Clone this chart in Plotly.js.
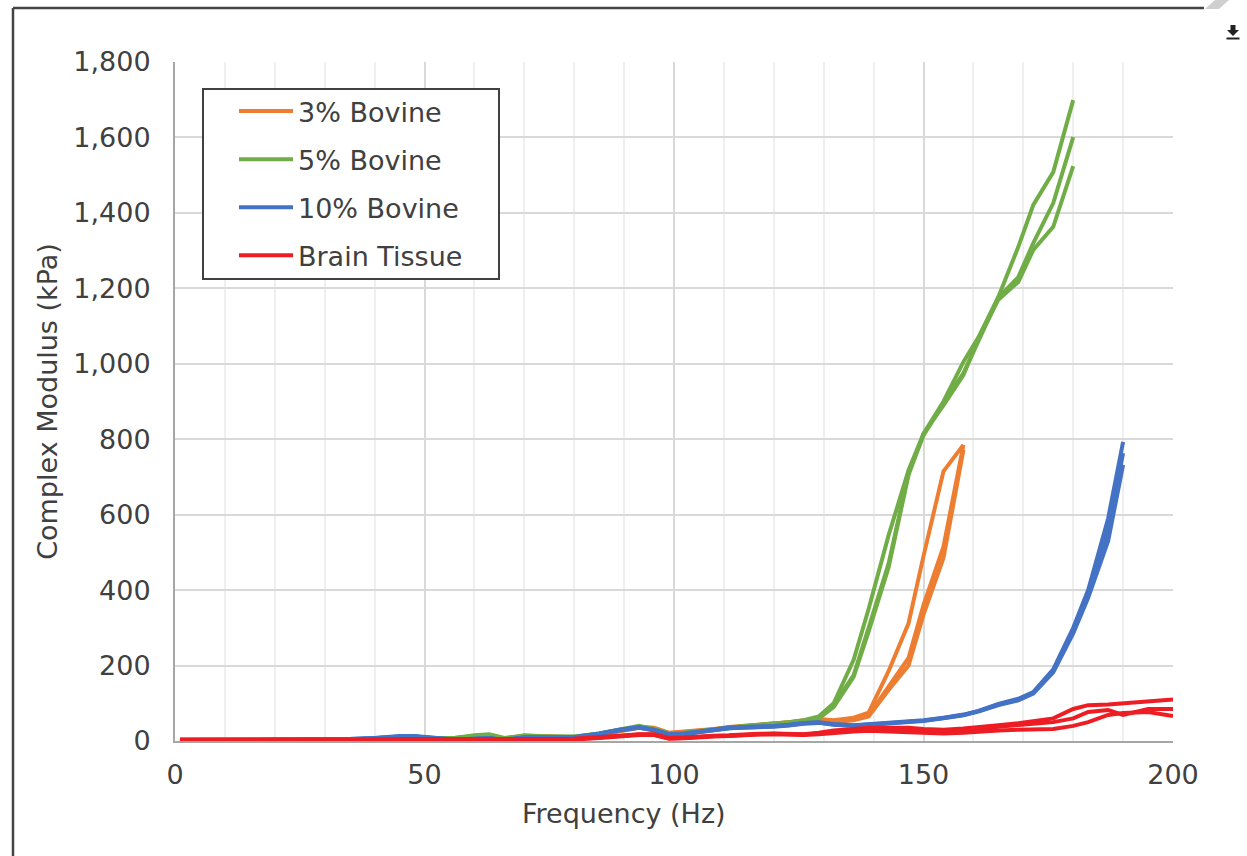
<!DOCTYPE html>
<html>
<head>
<meta charset="utf-8">
<script src="https://cdn.plot.ly/plotly-3.0.1.min.js"></script>
<style>
html,body{margin:0;padding:0;background:#fff;}
#chart{width:1247px;height:856px;}
</style>
</head>
<body>
<div id="chart"></div>
<script>
// Frequency grid (Hz)
const frequencies = [1, 5, 10, 15, 20, 25, 30, 35, 40, 45, 48, 52, 56, 60, 63, 66, 70, 75, 80, 85, 89, 93, 96, 99, 102, 105, 108, 111, 114, 117, 120, 123, 126, 129, 132, 136, 139, 143, 147, 150, 154, 158, 161, 165, 169, 172, 176, 180, 183, 187, 190, 195, 200];

const seriesNames = ["3% Bovine", "5% Bovine", "10% Bovine", "Brain Tissue"];
const seriesColors = ["#ED7D31", "#70AD47", "#4472C4", "#EE1D23"];

// 3% Bovine (to 158 Hz)
const bovine3_t1 = [3, 3, 3, 3, 3, 2, 2, 3, 5, 8, 8, 6, 5, 8, 5, 6, 15, 12, 10, 18, 28, 38, 35, 22, 25, 28, 32, 37, 40, 43, 47, 50, 55, 58, 55, 62, 75, 185, 312, 490, 715, 785];
const bovine3_t2 = [3, 3, 3, 3, 2, 2, 2, 3, 5, 7, 8, 6, 5, 7, 2, 6, 14, 12, 10, 17, 27, 36, 33, 21, 24, 27, 31, 36, 39, 42, 46, 49, 53, 56, 52, 58, 68, 145, 220, 360, 515, 785];
const bovine3_t3 = [2, 2, 2, 2, 2, 1, 1, 2, 4, 7, 7, 5, 4, 7, 3, 5, 13, 11, 9, 16, 26, 35, 32, 20, 23, 26, 30, 35, 38, 41, 45, 48, 52, 55, 50, 55, 65, 135, 200, 335, 485, 772];

// 5% Bovine (to 180 Hz)
const bovine5_t1 = [3, 3, 3, 3, 3, 3, 3, 3, 6, 8, 8, 8, 8, 15, 18, 8, 14, 12, 12, 20, 30, 40, 32, 20, 22, 27, 32, 37, 40, 43, 46, 50, 55, 65, 100, 215, 350, 545, 718, 815, 900, 1005, 1070, 1177, 1310, 1421, 1508, 1699];
const bovine5_t2 = [3, 3, 3, 3, 3, 3, 3, 3, 5, 7, 7, 7, 8, 13, 16, 7, 13, 11, 11, 19, 29, 38, 31, 19, 21, 26, 31, 36, 39, 42, 45, 49, 54, 62, 95, 175, 300, 470, 710, 810, 895, 975, 1060, 1175, 1230, 1320, 1426, 1601];
const bovine5_t3 = [2, 2, 2, 2, 2, 2, 2, 2, 5, 7, 7, 7, 7, 12, 15, 6, 12, 10, 10, 18, 28, 37, 30, 18, 20, 25, 30, 35, 38, 41, 44, 48, 53, 60, 90, 170, 290, 460, 705, 815, 890, 970, 1065, 1170, 1217, 1302, 1363, 1524];

// 10% Bovine (to 190 Hz)
const bovine10_t1 = [3, 3, 3, 3, 4, 3, 3, 5, 8, 13, 13, 8, 4, 6, 8, 3, 10, 10, 10, 20, 30, 37, 30, 18, 20, 25, 30, 36, 37, 38, 40, 43, 48, 50, 45, 42, 45, 50, 52, 55, 62, 70, 80, 98, 112, 130, 190, 300, 400, 590, 793];
const bovine10_t2 = [3, 3, 3, 3, 4, 3, 3, 5, 8, 12, 12, 8, 3, 6, 7, 2, 9, 9, 10, 19, 29, 36, 29, 17, 19, 24, 29, 35, 36, 37, 39, 42, 47, 49, 44, 41, 44, 49, 51, 54, 61, 69, 79, 96, 110, 128, 185, 290, 390, 560, 763];
const bovine10_t3 = [2, 2, 2, 2, 3, 2, 2, 4, 7, 12, 12, 7, 3, 5, 7, 2, 9, 9, 9, 18, 28, 35, 28, 16, 18, 23, 28, 34, 35, 36, 38, 41, 46, 48, 43, 40, 43, 48, 50, 53, 60, 68, 78, 95, 108, 126, 182, 285, 380, 530, 732];

// Brain Tissue (to 200 Hz)
const brain_t1 = [2, 2, 2, 2, 2, 2, 2, 2, 4, 5, 5, 5, 5, 5, 5, 6, 6, 7, 6, 10, 15, 18, 18, 8, 9, 12, 14, 15, 18, 19, 20, 19, 18, 22, 28, 32, 35, 35, 35, 32, 30, 33, 38, 42, 47, 52, 60, 85, 95, 97, 100, 105, 110];
const brain_t2 = [2, 2, 2, 2, 2, 2, 2, 2, 3, 4, 4, 4, 4, 4, 4, 5, 5, 6, 5, 9, 14, 17, 17, 7, 8, 11, 13, 14, 17, 18, 19, 18, 17, 20, 25, 28, 30, 30, 30, 28, 25, 28, 32, 38, 42, 45, 50, 60, 77, 82, 69, 85, 85];
const brain_t3 = [1, 1, 1, 1, 1, 1, 1, 1, 2, 3, 3, 3, 3, 3, 3, 4, 4, 5, 4, 8, 13, 16, 16, 6, 7, 10, 12, 13, 16, 17, 18, 17, 16, 18, 22, 25, 27, 25, 25, 22, 20, 22, 25, 28, 30, 30, 32, 40, 50, 69, 74, 77, 66];

const groups = [
  [bovine3_t1, bovine3_t2, bovine3_t3],
  [bovine5_t1, bovine5_t2, bovine5_t3],
  [bovine10_t1, bovine10_t2, bovine10_t3],
  [brain_t1, brain_t2, brain_t3]
];

const traces = [];
groups.forEach((trials, gi) => {
  trials.forEach((vals, ti) => {
    traces.push({
      type: 'scatter',
      mode: 'lines',
      x: frequencies.slice(0, vals.length),
      y: vals,
      name: seriesNames[gi],
      legendgroup: 'g' + gi,
      showlegend: ti === 0,
      line: {color: seriesColors[gi], width: 4},
      hoverinfo: 'x+y+name'
    });
  });
});

const L = 175, R = 1173, T = 62, B = 741;
const px = v => (v - L) / (R - L);
const py = v => (B - v) / (B - T);

const font = "Verdana, 'DejaVu Sans', sans-serif";
const txt = '#404040';
const fs = 27;

const layout = {
  width: 1247, height: 856,
  margin: {l: L, r: 1247 - R, t: T, b: 856 - B, pad: 0},
  paper_bgcolor: '#fff', plot_bgcolor: '#fff',
  font: {family: font, size: fs, color: txt},
  showlegend: true,
  legend: {
    x: px(234), y: py(87), xanchor: 'left', yanchor: 'top',
    bgcolor: 'rgba(0,0,0,0)', borderwidth: 0,
    font: {family: font, size: fs, color: txt},
    tracegroupgap: 10, traceorder: 'grouped', itemwidth: 54
  },
  xaxis: {
    range: [0, 200], dtick: 50, tick0: 0,
    showgrid: true, gridcolor: '#d9d9d9', gridwidth: 2,
    minor: {dtick: 10, showgrid: true, gridcolor: '#efefef', gridwidth: 2},
    showline: true, linecolor: '#a6a6a6', linewidth: 2,
    zeroline: false, ticks: '', ticklabelstandoff: 9,
    tickfont: {family: font, size: fs, color: txt}
  },
  yaxis: {
    range: [0, 1800], dtick: 200, tick0: 0, tickformat: ',d',
    showgrid: true, gridcolor: '#d9d9d9', gridwidth: 2,
    showline: true, linecolor: '#a6a6a6', linewidth: 2,
    zeroline: false, ticks: '', ticklabelstandoff: 17,
    tickfont: {family: font, size: fs, color: txt},
    title: {text: 'Complex Modulus (kPa)', font: {family: font, size: fs, color: txt}, standoff: 8}
  },
  annotations: [
    {text: 'Frequency (Hz)', xref: 'paper', yref: 'paper', x: px(624), y: py(813),
     xanchor: 'center', yanchor: 'middle', showarrow: false,
     font: {family: font, size: fs, color: txt}}
  ],
  shapes: [
    // legend box
    {type: 'rect', xref: 'paper', yref: 'paper', x0: px(203), x1: px(499), y0: py(279), y1: py(89),
     line: {color: '#404040', width: 2}, fillcolor: '#ffffff', layer: 'above'},
    // outer frame
    {type: 'line', xref: 'paper', yref: 'paper', x0: px(13), x1: px(1204), y0: py(8), y1: py(8),
     line: {color: '#444', width: 2.5}},
    {type: 'line', xref: 'paper', yref: 'paper', x0: px(13), x1: px(13), y0: py(8), y1: py(860),
     line: {color: '#444', width: 2.5}},
    // page corner
    {type: 'path', xref: 'paper', yref: 'paper',
     path: 'M' + px(1205) + ',' + py(9) + ' L' + px(1219) + ',' + py(9) + ' L' + px(1229) + ',' + py(0) + ' L' + px(1215) + ',' + py(0) + ' Z',
     fillcolor: '#cfcfcf', line: {width: 0}},
    // download icon
    {type: 'path', xref: 'paper', yref: 'paper',
     path: 'M' + px(1230.5) + ',' + py(25) + ' L' + px(1235.5) + ',' + py(25) + ' L' + px(1235.5) + ',' + py(30) + ' L' + px(1239) + ',' + py(30) + ' L' + px(1233) + ',' + py(36) + ' L' + px(1227) + ',' + py(30) + ' L' + px(1230.5) + ',' + py(30) + ' Z',
     fillcolor: '#222', line: {width: 0}},
    {type: 'line', xref: 'paper', yref: 'paper', x0: px(1226.5), x1: px(1239.5), y0: py(38.5), y1: py(38.5),
     line: {color: '#222', width: 2}}
  ]
};

Plotly.newPlot('chart', traces, layout, {displayModeBar: false, staticPlot: true});
</script>
</body>
</html>
